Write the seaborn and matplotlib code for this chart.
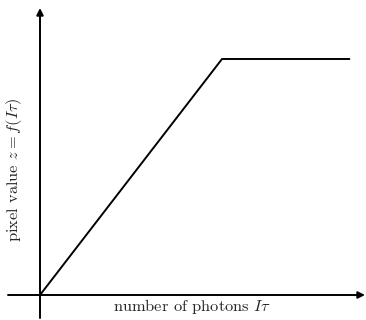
import matplotlib
matplotlib.use("Agg")
import matplotlib.pyplot as plt
import seaborn as sns

# photon count (normalised to saturation point) and pixel value
photons = [0.0, 1.0, 1.7]
pixel_value = [0.0, 1.0, 1.0]

x_label = r"number of photons $I\tau$"
y_label = r"pixel value $z = f(I\tau)$"

sns.set_style("white")
plt.rcParams["font.family"] = ["cmr10", "DejaVu Serif"]
plt.rcParams["mathtext.fontset"] = "cm"
plt.rcParams["axes.unicode_minus"] = False

fig = plt.figure(figsize=(3.66, 3.20), dpi=100)
ax = fig.add_axes([0, 0, 1, 1])

sns.lineplot(x=photons, y=pixel_value, ax=ax, color="black", linewidth=1.4)

# pixel mapping: x0 at px 40, saturation at px 222; y0 at px 295, top at px 59
ax.set_xlim(-40 / 182, 326 / 182)
ax.set_ylim(-25 / 236, 295 / 236)
ax.axis("off")

arrow = dict(arrowstyle="-|>", color="black", lw=1.4, mutation_scale=10,
             shrinkA=0, shrinkB=0)
ax.annotate("", xy=(0, 287 / 236), xytext=(0, -23 / 236), arrowprops=arrow)
ax.annotate("", xy=(325 / 182, 0), xytext=(-32 / 182, 0), arrowprops=arrow)

ax.text(152 / 182, -12 / 236, x_label, ha="center", va="center", fontsize=11.8)
ax.text(-26 / 182, 125 / 236, y_label, ha="center", va="center",
        rotation=90, fontsize=11.8)

fig.savefig("out.png", dpi=100)
